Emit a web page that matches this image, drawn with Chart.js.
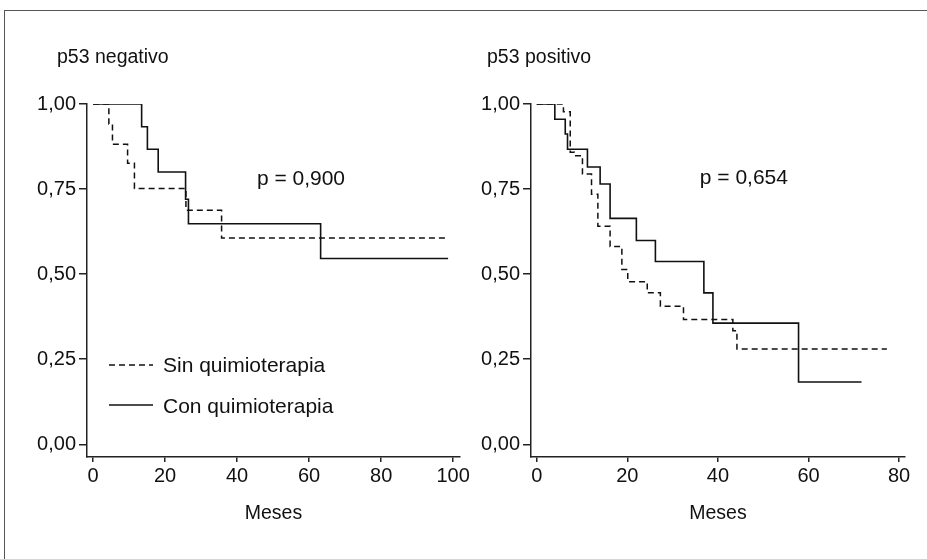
<!DOCTYPE html>
<html>
<head>
<meta charset="utf-8">
<script src="https://cdn.jsdelivr.net/npm/chart.js@4.4.1/dist/chart.umd.min.js"></script>
<style>
  html, body { margin: 0; padding: 0; background: #fff; }
  #wrap { position: relative; width: 927px; height: 559px; overflow: hidden; }
  #marco { position: absolute; left: 4px; top: 10px; width: 960px; height: 600px; border: 1.5px solid #555; }
  canvas { position: absolute; top: 0; }
  #c1 { left: 0; }
  #c2 { left: 460px; }
</style>
</head>
<body>
<div id="wrap">
  <div id="marco"></div>
  <canvas id="c1" width="475" height="559"></canvas>
  <canvas id="c2" width="467" height="559"></canvas>
</div>
<script>
// p53 negativo
var negConMeses = [0, 13.5, 15.1, 18.1, 25.7, 26.5, 63.2, 98.6];
var negConSurv  = [1, 0.933, 0.867, 0.800, 0.720, 0.648, 0.546, 0.546];
var negSinMeses = [0, 4.4, 5.4, 9.6, 11.5, 25.8, 35.7, 98.6];
var negSinSurv  = [1, 0.941, 0.882, 0.826, 0.752, 0.688, 0.606, 0.606];

// p53 positivo
var posConMeses = [0, 4.0, 6.3, 6.8, 11.2, 14.0, 16.2, 22.0, 26.2, 36.9, 38.9, 57.8, 71.7];
var posConSurv  = [1, 0.955, 0.912, 0.867, 0.815, 0.765, 0.664, 0.599, 0.537, 0.445, 0.356, 0.183, 0.183];
var posSinMeses = [0, 5.9, 7.4, 8.3, 10.1, 12.1, 13.5, 16.2, 18.8, 20.1, 24.4, 27.3, 32.4, 43.3, 44.2, 77.3];
var posSinSurv  = [1, 0.977, 0.858, 0.848, 0.794, 0.735, 0.641, 0.581, 0.514, 0.478, 0.445, 0.406, 0.367, 0.334, 0.280, 0.280];

var yTicks = [0, 0.25, 0.5, 0.75, 1];
var negXTicks = [0, 20, 40, 60, 80, 100];
var posXTicks = [0, 20, 40, 60, 80];

var serieSin = "Sin quimioterapia";
var serieCon = "Con quimioterapia";

var FONT = "'Liberation Sans', Arial, Helvetica, sans-serif";
var INK = "#111";

function puntos(meses, surv) {
  var out = [];
  for (var i = 0; i < meses.length; i++) {
    out.push({x: meses[i], y: surv[i]});
  }
  return out;
}

// texts drawn on top of the plot: panel title, p value, legend
var extras = {
  id: "extras",
  afterDatasetsDraw: function(chart, args, opts) {
    var ctx = chart.ctx;
    var area = chart.chartArea;
    var xs = chart.scales.x, ys = chart.scales.y;
    ctx.save();
    ctx.fillStyle = INK;
    ctx.strokeStyle = INK;

    ctx.font = "19.5px " + FONT;
    ctx.textAlign = "left";
    ctx.textBaseline = "middle";
    ctx.fillText(opts.titulo, area.left + opts.tituloDx, 58);

    ctx.font = "21px " + FONT;
    ctx.textBaseline = "alphabetic";
    ctx.fillText(opts.pTexto, xs.getPixelForValue(opts.pX), ys.getPixelForValue(opts.pY));

    if (opts.leyenda) {
      var x0 = area.left + 22, x1 = area.left + 66;
      var yA = area.top + 261, yB = area.top + 301;
      ctx.lineWidth = 1.5;
      ctx.setLineDash([6, 4]);
      ctx.beginPath(); ctx.moveTo(x0, yA); ctx.lineTo(x1, yA); ctx.stroke();
      ctx.setLineDash([]);
      ctx.beginPath(); ctx.moveTo(x0, yB); ctx.lineTo(x1, yB); ctx.stroke();
      ctx.font = "21px " + FONT;
      ctx.textBaseline = "middle";
      ctx.fillText(serieSin, area.left + 76, yA + 1);
      ctx.fillText(serieCon, area.left + 76, yB + 2);
    }
    ctx.restore();
  }
};

function grafico(id, sin, con, xTicks, xMin, xMax, yAncho, padDer, extraOpts) {
  var ctx = document.getElementById(id);
  return new Chart(ctx, {
    type: "line",
    data: {
      datasets: [{
        label: serieSin,
        data: sin,
        stepped: true,
        borderColor: INK,
        borderWidth: 1.5,
        borderDash: [6, 4],
        pointRadius: 0,
        fill: false
      }, {
        label: serieCon,
        data: con,
        stepped: true,
        borderColor: INK,
        borderWidth: 1.6,
        pointRadius: 0,
        fill: false
      }]
    },
    options: {
      responsive: false,
      animation: false,
      devicePixelRatio: 1,
      layout: { padding: { top: 104, right: padDer, bottom: 0, left: 0 } },
      plugins: {
        legend: { display: false },
        tooltip: { enabled: false },
        extras: extraOpts
      },
      scales: {
        x: {
          type: "linear",
          min: xMin,
          max: xMax,
          afterBuildTicks: function(s) { s.ticks = xTicks.map(function(v) { return {value: v}; }); },
          afterFit: function(s) { s.height = 102; },
          grid: { display: true, drawOnChartArea: false, drawTicks: true, tickLength: 5, color: "#222", lineWidth: 1.5 },
          border: { display: true, color: "#222", width: 1.5 },
          ticks: { color: INK, font: { size: 20, family: FONT }, padding: 2, maxRotation: 0 },
          title: { display: true, text: "Meses", color: INK, font: { size: 19.5, family: FONT }, padding: { top: 0, bottom: 34 } }
        },
        y: {
          type: "linear",
          min: -0.0373,
          max: 1,
          afterBuildTicks: function(s) { s.ticks = yTicks.map(function(v) { return {value: v}; }); },
          afterFit: function(s) { s.width = yAncho; },
          grid: { display: true, drawOnChartArea: false, drawTicks: true, tickLength: 8, color: "#222", lineWidth: 1.5 },
          border: { display: true, color: "#222", width: 1.5 },
          ticks: {
            color: INK,
            font: { size: 20, family: FONT },
            padding: 3,
            callback: function(v) { return Number(v).toFixed(2).replace(".", ","); }
          }
        }
      }
    },
    plugins: [extras]
  });
}

function init() {
  Chart.defaults.font.family = FONT;
  grafico("c1", puntos(negSinMeses, negSinSurv), puntos(negConMeses, negConSurv),
    negXTicks, -1.67, 101.9, 87, 15,
    { titulo: "p53 negativo", tituloDx: -30, pTexto: "p = 0,900", pX: 45.5, pY: 0.762, leyenda: true });
  grafico("c2", puntos(posSinMeses, posSinSurv), puntos(posConMeses, posConSurv),
    posXTicks, -1.26, 81.3, 71, 22,
    { titulo: "p53 positivo", tituloDx: -44, pTexto: "p = 0,654", pX: 36.0, pY: 0.764, leyenda: false });
}

init();
</script>
</body>
</html>
